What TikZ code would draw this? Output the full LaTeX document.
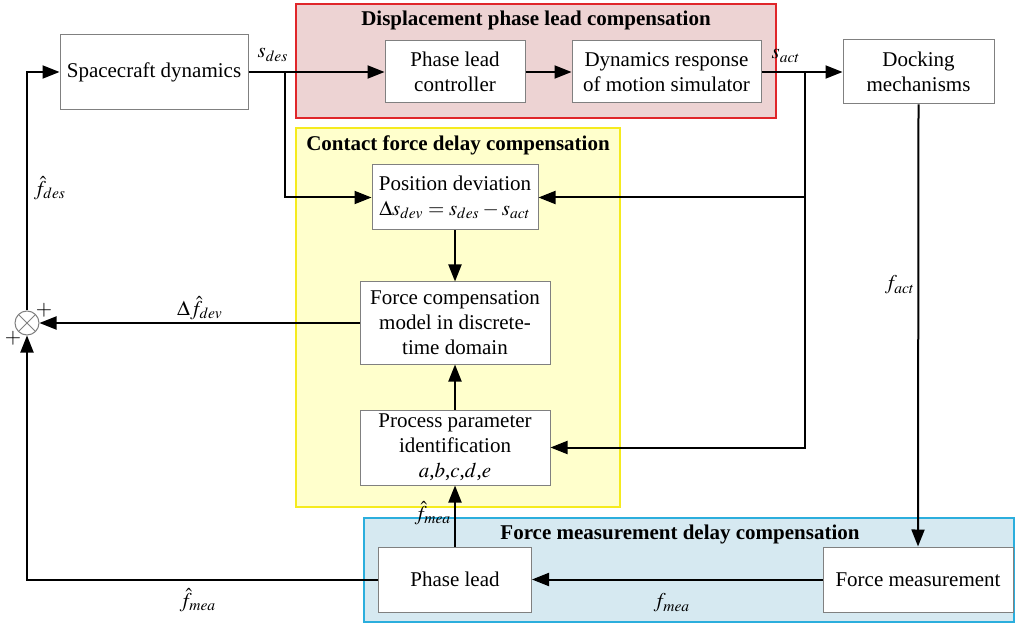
\documentclass[tikz,border=0pt]{standalone}
\usepackage{mathptmx}
\usepackage[no-math]{fontspec}
\setmainfont{Liberation Serif}
\usetikzlibrary{arrows.meta,calc}
\definecolor{redfill}{HTML}{EDD3D3}
\definecolor{redline}{HTML}{E0262A}
\definecolor{yelfill}{HTML}{FFFFCC}
\definecolor{yelline}{HTML}{F5EB1E}
\definecolor{bluefill}{HTML}{D6E9F1}
\definecolor{blueline}{HTML}{2BAEDD}
\definecolor{boxline}{HTML}{808080}
\tikzset{
  blk/.style={draw=boxline, line width=0.5pt, fill=white, align=center, inner sep=1pt, font=\fontsize{10.5}{12.5}\selectfont},
  conn/.style={line width=1pt, -{Triangle[length=8.5pt,width=6.5pt]}},
  grp/.style={line width=1pt},
  ttl/.style={font=\fontsize{10.5}{12.5}\selectfont\bfseries},
  lbl/.style={font=\fontsize{10.5}{12.5}\selectfont, inner sep=0pt},
}
\begin{document}
\begin{tikzpicture}[x=0.5pt,y=-0.5pt]
\useasboundingbox (0,0) rectangle (1016,625);
% group boxes
\draw[grp, draw=redline, fill=redfill] (296,4) rectangle (776,118);
\draw[grp, draw=yelline, fill=yelfill] (296,128) rectangle (620,507);
\draw[grp, draw=blueline, fill=bluefill] (364,518) rectangle (1014,622);
\node[ttl] (t1) at (536,20) {Displacement phase lead compensation};
\node[ttl] (t2) at (458,145) {Contact force delay compensation};
\node[ttl] (t3) at (680,534) {Force measurement delay compensation};
% blocks
\node[blk, minimum width=94pt, minimum height=37.5pt] (sc) at (154,72) {Spacecraft dynamics};
\node[blk, minimum width=70pt, minimum height=31pt] (plc) at (455,72) {Phase lead\\controller};
\node[blk, minimum width=94.5pt, minimum height=31pt] (dyn) at (666.5,72) {Dynamics response\\of motion simulator};
\node[blk, minimum width=75.5pt, minimum height=32pt] (dock) at (918.5,72) {Docking\\mechanisms};
\node[blk, minimum width=83pt, minimum height=32.5pt] (pd) at (455,197.5) {Position deviation\\$\Delta s_{dev}=s_{des}-s_{act}$};
\node[blk, minimum width=95pt, minimum height=41pt] (fcm) at (455,323) {Force compensation\\model in discrete-\\time domain};
\node[blk, minimum width=95pt, minimum height=37.5pt] (ppi) at (455,447.5) {Process parameter\\identification\\$a$,$b$,$c$,$d$,$e$};
\node[blk, minimum width=76.5pt, minimum height=32.5pt] (pl) at (455,579.5) {Phase lead};
\node[blk, minimum width=95pt, minimum height=32.5pt] (fm) at (918,579.5) {Force measurement};
\node[circle, draw=boxline, line width=0.5pt, fill=white, minimum size=12pt, inner sep=0pt,
  path picture={\draw[boxline, line width=0.5pt] (path picture bounding box.north west) -- (path picture bounding box.south east)
  (path picture bounding box.north east) -- (path picture bounding box.south west);}] (sum) at (27,323) {};
% junctions
\coordinate (j1) at (285,72);
\coordinate (j2) at (805,72);
% connectors
\draw[conn] (sc.east) -- (plc.west);
\draw[conn] (j1) |- (pd.west);
\draw[conn] (plc.east) -- (dyn.west);
\draw[conn] (dyn.east) -- (dock.west);
\draw[conn] (j2) |- (pd.east);
\draw[conn] (j2) |- (ppi.east);
\draw[conn] (pd.south) -- (fcm.north);
\draw[conn] (ppi.north) -- (fcm.south);
\draw[conn] (dock.south) -- (fm.north);
\draw[conn] (fm.west) -- (pl.east);
\draw[conn] (pl.north) -- (ppi.south);
\draw[conn] (pl.west) -| (sum.south);
\draw[conn] (fcm.west) -- (sum.east);
\draw[conn] (sum.north) |- (sc.west);
% labels
\node[lbl] (ls1) at (273,55) {$s_{des}$};
\node[lbl] (ls2) at (786,56) {$s_{act}$};
\node[lbl] (lfd) at (50,188) {$\hat{f}_{des}$};
\node[lbl] (ldf) at (200,308) {$\Delta\hat{f}_{dev}$};
\node[lbl] (lfa) at (900,285) {$f_{act}$};
\node[lbl] (lfm1) at (433,513) {$\hat{f}_{mea}$};
\node[lbl] (lfm2) at (198,600) {$\hat{f}_{mea}$};
\node[lbl] (lfm3) at (672,603) {$f_{mea}$};
\node[lbl] (pp1) at (44,310) {$+$};
\node[lbl] (pp2) at (13,338) {$+$};
\end{tikzpicture}
\end{document}
